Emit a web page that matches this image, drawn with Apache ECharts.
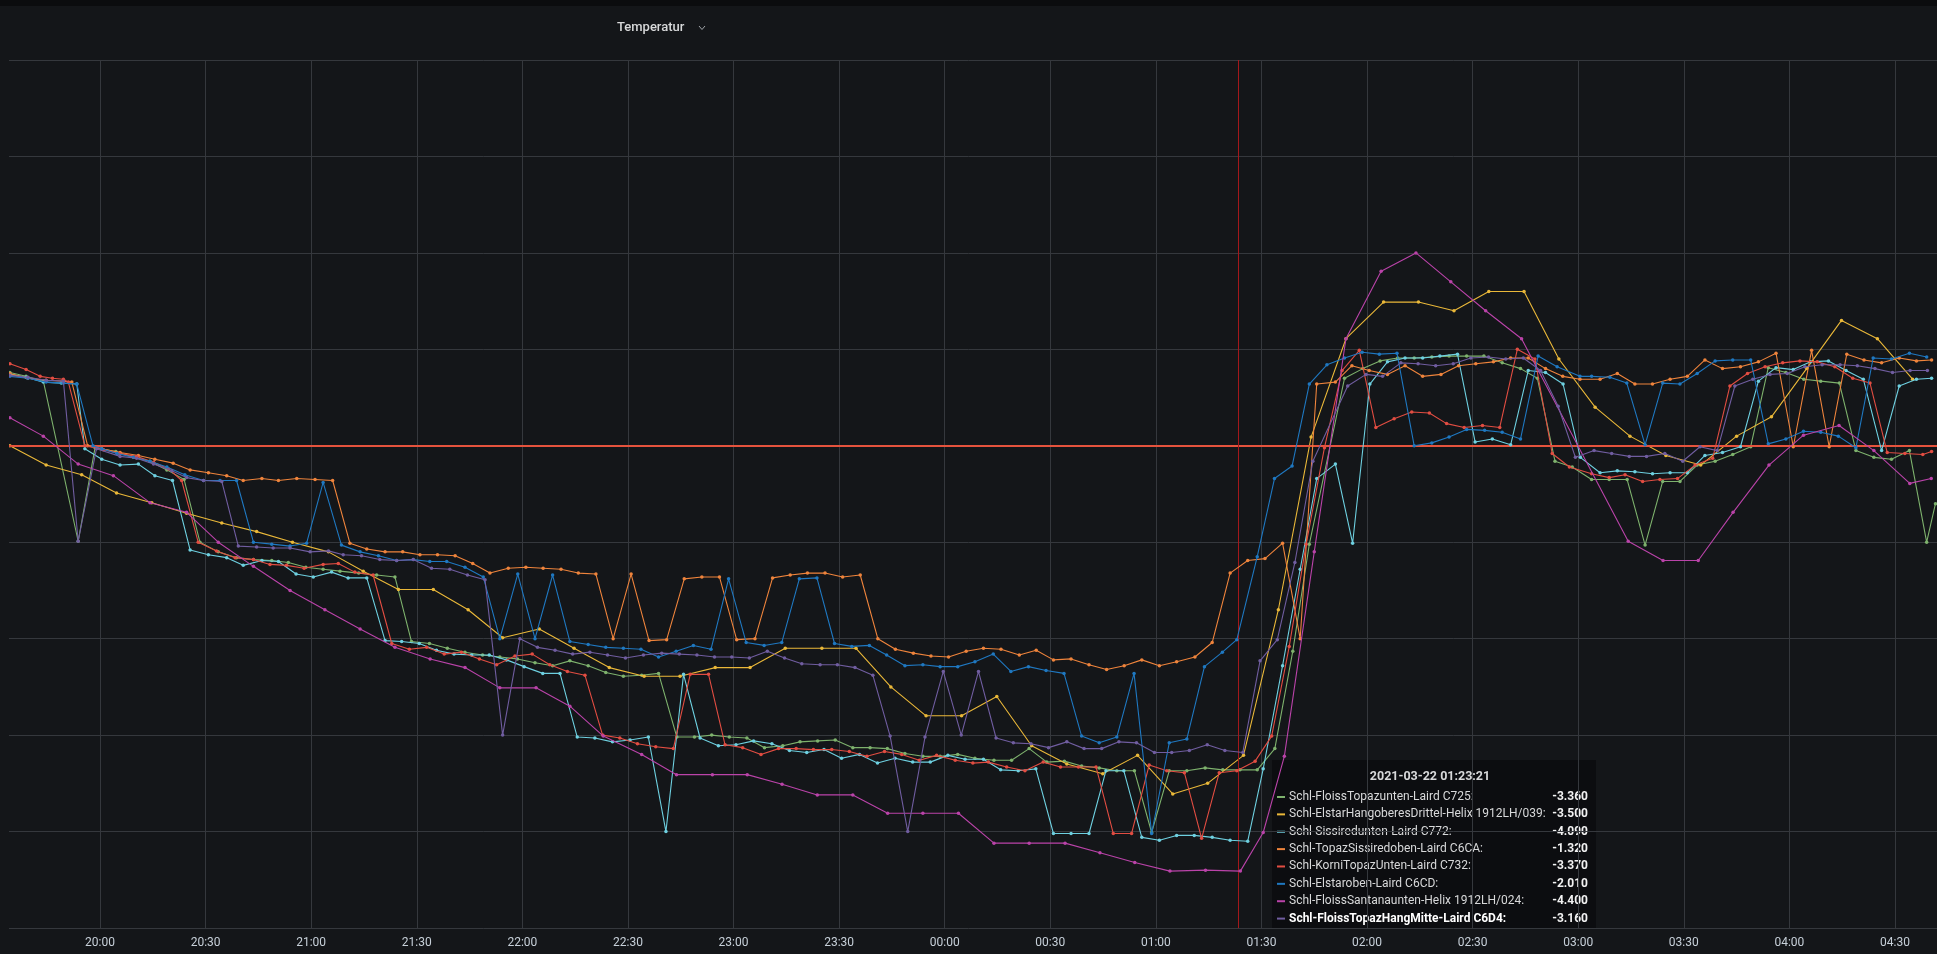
<!DOCTYPE html>
<html>
<head>
<meta charset="utf-8">
<title>Temperatur</title>
<script src="https://cdn.jsdelivr.net/npm/echarts@6/dist/echarts.min.js"></script>
<style>
  html, body { margin: 0; padding: 0; background: #141619; }
  #chart { width: 1937px; height: 954px; }
</style>
</head>
<body>
<div id="chart"></div>
<script>
// Sensor names and colours, in legend order
const seriesNames = [
  'Schl-FloissTopazunten-Laird C725',
  'Schl-ElstarHangoberesDrittel-Helix 1912LH/039',
  'Schl-Sissiredunten-Laird C772',
  'Schl-TopazSissiredoben-Laird C6CA',
  'Schl-KorniTopazUnten-Laird C732',
  'Schl-Elstaroben-Laird C6CD',
  'Schl-FloissSantanaunten-Helix 1912LH/024',
  'Schl-FloissTopazHangMitte-Laird C6D4'
];
const seriesColors = ['#7EB26D', '#EAB839', '#6ED0E0', '#EF843C', '#E24D42', '#1F78C1', '#BA43A9', '#705DA0'];

// Readings as [minutes after 2021-03-21 20:00, temperature in °C]
const floissTopazunten = [[-25.6,0.76],[-21,0.72],[-16.1,0.67],[-6.2,-0.99],[-1.4,-0.02],[4.5,-0.06],[9.5,-0.12],[14.2,-0.16],[19,-0.25],[23.9,-0.35],[28.4,-1.0],[33.6,-1.10],[38.8,-1.16],[43.6,-1.18],[48.8,-1.19],[53.5,-1.21],[58.5,-1.26],[63.4,-1.28],[68.2,-1.30],[73.5,-1.32],[78.6,-1.34],[83.8,-1.36],[88.5,-2.03],[93.6,-2.05],[98.7,-2.10],[103.7,-2.14],[108.7,-2.17],[113.6,-2.19],[118.6,-2.21],[123.6,-2.25],[128.6,-2.28],[133.5,-2.23],[138.7,-2.28],[143.7,-2.35],[148.7,-2.39],[153.9,-2.38],[158.7,-2.36],[163.9,-3.02],[168.9,-3.02],[173.8,-3.0],[178.8,-3.02],[183.8,-3.03],[188.8,-3.13],[194,-3.11],[198.9,-3.07],[203.9,-3.06],[208.9,-3.05],[213.9,-3.13],[218.8,-3.13],[223.7,-3.14],[228.7,-3.19],[233.8,-3.22],[238.7,-3.22],[243.7,-3.20],[248.6,-3.24],[254,-3.26],[259,-3.26],[264,-3.14],[269,-3.28],[274,-3.27],[278.9,-3.32],[283.9,-3.34],[288.9,-3.37],[293.9,-3.37],[298.8,-4.01],[303.8,-3.37],[308.8,-3.37],[314,-3.34],[319,-3.36],[323.9,-3.36],[328.8,-3.36],[333.8,-3.14],[338.9,-2.13],[343.6,-1.02],[353.6,0.70],[358.8,0.80],[363.7,0.88],[368.7,0.91],[373.4,0.91],[378.4,0.92],[383.3,0.93],[388.3,0.93],[393.2,0.93],[398.4,0.86],[403.6,0.80],[408.4,0.70],[413.4,-0.16],[418.3,-0.22],[423.8,-0.35],[428.8,-0.35],[433.9,-0.35],[439,-1.03],[444,-0.37],[448.9,-0.37],[453.8,-0.20],[458.9,-0.16],[463.9,-0.09],[469,-0.01],[474,0.81],[479,0.76],[484.1,0.69],[488.9,0.67],[494.2,0.65],[498.9,-0.05],[504,-0.12],[509,-0.14],[514.1,-0.05],[519,-1.0],[521.5,-0.6]];

const elstarHangoberesDrittel = [[-25.6,0.0],[-15.3,-0.20],[-5.2,-0.30],[4.7,-0.49],[14.7,-0.59],[24.6,-0.70],[34.6,-0.80],[44.5,-0.89],[54.7,-1.0],[64.9,-1.10],[74.8,-1.30],[84.8,-1.49],[94.7,-1.49],[104.6,-1.70],[114.4,-1.99],[124.8,-1.90],[134.7,-2.10],[144.7,-2.30],[154.6,-2.39],[164.8,-2.39],[174.8,-2.30],[184.7,-2.30],[194.7,-2.10],[205.1,-2.10],[214.8,-2.10],[224.7,-2.50],[234.7,-2.80],[244.8,-2.80],[254.8,-2.60],[264.7,-3.11],[274.7,-3.30],[284.9,-3.40],[294.8,-3.21],[304.8,-3.61],[314.7,-3.50],[324.9,-3.21],[334.8,-1.70],[344.1,0.09],[354,1.11],[364.7,1.49],[374.6,1.49],[384.7,1.40],[394.6,1.60],[404.6,1.60],[414.5,0.90],[424.8,0.40],[434.7,0.10],[444.9,-0.10],[454.8,-0.20],[465,0.10],[474.9,0.30],[484.9,0.80],[494.8,1.30],[505,1.11],[515,0.69]];

const sissiredunten = [[-25.6,0.74],[-21,0.71],[-16.1,0.66],[-11,0.65],[-6.6,0.64],[-4.3,-0.03],[0.5,-0.14],[5.7,-0.20],[10.9,-0.19],[15.6,-0.31],[20.6,-0.36],[25.6,-1.08],[30.8,-1.13],[36,-1.16],[40.7,-1.24],[46,-1.19],[50.7,-1.20],[55.7,-1.33],[60.6,-1.36],[65.8,-1.31],[70.5,-1.37],[75.8,-1.37],[81,-2.02],[85.7,-2.03],[90.7,-2.05],[95.6,-2.12],[100.6,-2.16],[105.6,-2.17],[110.6,-2.17],[115.5,-2.22],[120.5,-2.29],[125.8,-2.36],[130.7,-2.36],[135.6,-3.02],[140.6,-3.03],[145.6,-3.07],[150.6,-3.05],[155.8,-3.02],[160.8,-4.0],[165.8,-2.37],[170.5,-3.03],[175.7,-3.11],[180.7,-3.10],[185.7,-3.06],[190.9,-3.09],[195.9,-3.16],[200.8,-3.18],[205.7,-3.15],[210.7,-3.24],[215.8,-3.20],[220.9,-3.29],[225.9,-3.24],[230.9,-3.28],[235.9,-3.28],[240.9,-3.21],[245.8,-3.25],[251,-3.25],[255.9,-3.36],[260.9,-3.37],[265.9,-3.35],[270.9,-4.02],[275.9,-4.02],[281,-4.02],[285.8,-3.37],[290.9,-3.37],[296,-4.06],[301,-4.09],[305.9,-4.04],[310.9,-4.04],[316,-4.06],[321.1,-4.09],[326.1,-4.10],[330.5,-3.35],[336,-2.28],[341,-1.28],[345.7,-0.34],[351,-0.19],[355.9,-1.01],[360.8,0.64],[365.8,0.87],[370.8,0.91],[375.8,0.91],[380.7,0.93],[385.7,0.95],[390.7,0.04],[395.6,0.07],[400.8,0.01],[405.8,0.78],[410.7,0.76],[415.7,0.64],[420.6,-0.12],[426.2,-0.28],[431.1,-0.26],[436.1,-0.27],[441.1,-0.29],[446.1,-0.28],[451,-0.28],[456,-0.10],[461,-0.07],[466.1,-0.01],[471.2,0.67],[476.2,0.81],[481.1,0.79],[486,0.87],[491.1,0.88],[496.1,0.78],[501,0.69],[506.2,-0.05],[511.2,0.62],[516.1,0.69],[520.4,0.70]];

const topazSissiredoben = [[-25.6,0.75],[-20.5,0.70],[-15.3,0.68],[-10.4,0.67],[-8,0.66],[-3.5,0.0],[0.5,-0.03],[5.7,-0.07],[10.9,-0.10],[15.6,-0.14],[20.8,-0.18],[25.6,-0.25],[30.8,-0.28],[36,-0.31],[40.7,-0.36],[46,-0.34],[50.7,-0.36],[55.9,-0.34],[61.1,-0.35],[66.1,-0.36],[71,-1.01],[75.8,-1.07],[81,-1.10],[86,-1.10],[90.9,-1.13],[95.9,-1.13],[100.9,-1.14],[105.9,-1.22],[110.8,-1.32],[116,-1.27],[121,-1.26],[125.9,-1.27],[131,-1.28],[135.9,-1.32],[140.9,-1.33],[145.8,-2.0],[150.9,-1.33],[156,-2.02],[161,-2.01],[166,-1.38],[171,-1.36],[176,-1.36],[180.9,-2.01],[186.1,-2.0],[191.1,-1.37],[196.1,-1.34],[201,-1.32],[206,-1.32],[211,-1.36],[216,-1.34],[221,-2.0],[226,-2.11],[231.1,-2.15],[236.1,-2.18],[241.1,-2.19],[246.1,-2.13],[251,-2.10],[256,-2.11],[261.2,-2.17],[266,-2.12],[270.9,-2.22],[275.9,-2.21],[281,-2.27],[286,-2.32],[291,-2.28],[296,-2.22],[301,-2.28],[305.9,-2.24],[311.1,-2.19],[316,-2.04],[321.1,-1.32],[326.1,-1.19],[331,-1.17],[336,-1.01],[341,-2.0],[345.7,0.64],[351,0.66],[355.7,0.83],[360.6,0.78],[365.8,0.74],[370.8,0.83],[375.8,0.72],[381,0.74],[386,0.83],[390.9,0.85],[395.9,0.87],[400.8,0.91],[405.8,0.91],[410.7,0.80],[415.6,0.72],[420.5,0.69],[426.2,0.69],[431.1,0.75],[436.1,0.64],[441.1,0.64],[446.1,0.69],[451,0.72],[456,0.89],[461,0.80],[466.1,0.82],[471.2,0.87],[476.2,0.96],[481.1,-0.01],[486.3,0.99],[491.3,-0.01],[496.3,0.95],[501.2,0.89],[506.2,0.86],[511.2,0.91],[516.1,0.88],[520.4,0.89]];

const korniTopazUnten = [[-25.6,0.85],[-21,0.79],[-17,0.72],[-13.5,0.70],[-10.4,0.69],[-9,0.66],[-4.3,0.0],[1,-0.04],[5.5,-0.08],[10.4,-0.11],[15.2,-0.17],[19.5,-0.24],[23.2,-0.36],[27.9,-1.0],[33.1,-1.09],[38.4,-1.16],[43.6,-1.18],[48.3,-1.23],[53,-1.24],[58,-1.27],[63.4,-1.23],[67.7,-1.22],[72.4,-1.31],[77.6,-1.34],[82.9,-2.05],[87.9,-2.11],[92.8,-2.09],[97.8,-2.16],[102.7,-2.14],[107.8,-2.21],[112.7,-2.27],[117.9,-2.18],[122.8,-2.16],[127.8,-2.27],[132.8,-2.34],[137.8,-2.38],[142.8,-3.0],[147.7,-3.03],[152.7,-3.09],[157.9,-3.12],[162.9,-3.14],[167.7,-2.37],[172.9,-2.37],[177.6,-3.10],[182.6,-3.13],[187.8,-3.20],[192.8,-3.14],[197.8,-3.14],[202.7,-3.15],[207.9,-3.15],[212.9,-3.17],[217.9,-3.22],[222.9,-3.17],[227.8,-3.20],[232.8,-3.26],[237.7,-3.21],[243,-3.26],[248,-3.29],[252.4,-3.28],[257.6,-3.33],[262.8,-3.37],[268,-3.28],[272.9,-3.33],[278,-3.33],[283,-3.33],[287.9,-4.02],[293.1,-4.02],[298.1,-3.31],[303.1,-3.37],[308.1,-3.39],[313,-4.07],[318,-3.39],[323,-3.37],[328.2,-3.27],[332.9,-3.01],[337.9,-2.08],[342.7,-1.02],[347.9,-0.02],[352.9,0.78],[357.8,0.99],[362.5,0.19],[367.7,0.28],[372.7,0.35],[377.7,0.34],[382.6,0.23],[387.6,0.19],[392.8,0.21],[397.7,0.19],[402.7,1.0],[407.7,0.90],[412.6,-0.08],[417.5,-0.22],[423.8,-0.29],[428.8,-0.33],[433.3,-0.30],[438.3,-0.37],[443.2,-0.35],[448.2,-0.34],[453.2,-0.20],[458.2,-0.13],[463.1,0.62],[468.1,0.75],[473.1,0.82],[478.1,0.86],[483,0.88],[487.9,0.87],[492.9,0.82],[498,0.70],[502.9,0.65],[507.8,-0.07],[512.8,-0.08],[517.9,-0.09],[520.4,-0.06]];

const elstaroben = [[-25.6,0.72],[-20.5,0.70],[-15.3,0.66],[-10.4,0.65],[-6.6,0.64],[-2,0.0],[0.5,-0.03],[4.8,-0.08],[9.5,-0.12],[14.2,-0.16],[19,-0.22],[24.1,-0.30],[29.4,-0.36],[34.1,-0.36],[38.8,-0.36],[43.6,-1.0],[48.8,-1.02],[54,-1.04],[58.7,-1.01],[63.4,-0.38],[68.6,-1.03],[73.9,-1.10],[79.1,-1.14],[84.3,-1.19],[89,-1.18],[93.7,-1.20],[98.5,-1.20],[103.7,-1.26],[108.9,-1.36],[113.6,-2.0],[118.7,-1.33],[123.6,-2.0],[128.6,-1.34],[133.5,-2.03],[138.7,-2.06],[143.7,-2.09],[148.7,-2.10],[153.7,-2.11],[158.7,-2.19],[163.7,-2.13],[168.6,-2.07],[173.6,-2.11],[178.6,-1.38],[183.6,-2.04],[188.7,-2.07],[193.7,-2.04],[198.7,-1.38],[203.7,-1.37],[208.7,-2.05],[213.6,-2.08],[218.6,-2.07],[223.5,-2.17],[228.7,-2.28],[233.8,-2.27],[238.7,-2.29],[243.7,-2.29],[248.6,-2.24],[253.8,-2.16],[258.8,-2.34],[263.8,-2.29],[268.8,-2.33],[273.9,-2.36],[278.9,-3.01],[283.9,-3.08],[288.9,-3.02],[293.8,-2.36],[298.8,-4.02],[303.8,-3.08],[308.8,-3.04],[313.8,-2.29],[318.9,-2.14],[323,-2.01],[328.8,-1.15],[333.7,-0.34],[338.7,-0.21],[343.6,0.64],[348.6,0.84],[353.6,0.91],[358.6,0.97],[363.5,0.95],[368.5,0.96],[373.4,0.0],[378.4,0.03],[383.3,0.09],[388.3,0.17],[393.4,0.16],[398.4,0.14],[403.6,0.07],[408.6,0.93],[414,0.82],[420.5,0.72],[423.8,0.72],[429,0.71],[433.8,0.65],[439,0.01],[444,0.65],[448.9,0.64],[453.8,0.75],[458.9,0.88],[463.9,0.89],[469,0.89],[474,0.02],[479,0.07],[484,0.15],[488.9,0.14],[493.9,0.10],[498.9,-0.02],[503.8,0.91],[509,0.90],[514.1,0.96],[519,0.92]];

const floissSantanaunten = [[-25.6,0.29],[-16.1,0.10],[-6.2,-0.19],[3.8,-0.31],[14.2,-0.59],[24.6,-0.69],[33.6,-1.0],[43.6,-1.25],[54,-1.50],[63.9,-1.70],[73.9,-1.90],[83.8,-2.09],[93.8,-2.21],[103.7,-2.30],[113.6,-2.51],[123.9,-2.51],[133.5,-2.70],[143,-3.01],[153.9,-3.20],[163.8,-3.41],[174,-3.41],[183.9,-3.41],[193.8,-3.51],[203.8,-3.62],[213.9,-3.62],[223.8,-3.81],[233.8,-3.81],[243.9,-3.81],[254,-4.12],[264,-4.12],[274.2,-4.12],[284.1,-4.22],[294,-4.32],[304,-4.41],[314.1,-4.40],[324,-4.41],[330.5,-4.01],[336.5,-3.22],[345,-1.10],[354,1.11],[364,1.81],[373.9,2.0],[383.8,1.70],[393.7,1.40],[403.9,1.11],[434.2,-0.99],[444.1,-1.19],[454.1,-1.19],[464,-0.69],[474.2,-0.20],[484,0.11],[494.1,0.21],[504,-0.05],[514.2,-0.39],[520.3,-0.34]];

const floissTopazHangMitte = [[-25.6,0.73],[-20.5,0.71],[-15.3,0.68],[-10.4,0.67],[-6.2,-0.99],[-1,-0.03],[5.7,-0.11],[10.4,-0.13],[15.2,-0.19],[20.4,-0.26],[24.6,-0.33],[29.4,-0.36],[34.6,-0.37],[39.3,-1.04],[44.5,-1.05],[49.2,-1.06],[54,-1.06],[59.7,-1.10],[64.9,-1.09],[69.1,-1.13],[74.3,-1.14],[79.5,-1.18],[84.3,-1.19],[89,-1.18],[94.2,-1.27],[99.4,-1.28],[104.4,-1.34],[109.4,-1.39],[114.4,-3.0],[119.3,-2.0],[124.3,-2.09],[129.3,-2.12],[134.3,-2.16],[139.2,-2.14],[144.2,-2.17],[149.3,-2.20],[154.4,-2.17],[159.6,-2.15],[164.6,-2.16],[169.6,-2.17],[174.6,-2.19],[179.5,-2.19],[184.5,-2.20],[189.6,-2.13],[194.5,-2.20],[199.4,-2.26],[204.6,-2.27],[209.5,-2.27],[214.5,-2.30],[219.6,-2.38],[224.5,-3.01],[229.5,-4.0],[234.4,-3.02],[239.6,-2.34],[244.7,-3.0],[249.6,-2.34],[254.6,-3.03],[259.5,-3.08],[264.5,-3.09],[269.5,-3.13],[274.7,-3.07],[279.6,-3.14],[284.6,-3.14],[289.5,-3.07],[294.5,-3.08],[299.6,-3.18],[304.5,-3.18],[309.5,-3.16],[314.6,-3.10],[319.6,-3.16],[324.7,-3.18],[329.6,-2.23],[334.5,-2.01],[339.5,-1.21],[344.6,-0.16],[354.5,0.62],[359.7,0.74],[364.4,0.72],[369.6,0.86],[374.5,0.85],[379.5,0.83],[384.5,0.85],[389.5,0.91],[394.5,0.92],[399.4,0.90],[404.4,0.91],[409.3,0.78],[414.3,0.41],[419.2,-0.12],[424.5,-0.05],[429.5,-0.08],[434.5,-0.11],[439.4,-0.11],[444.6,-0.08],[449.7,-0.16],[454.6,-0.01],[459.5,-0.05],[464.5,0.62],[469.6,0.69],[474.5,0.74],[479.4,0.75],[484.4,0.82],[489.3,0.84],[494.4,0.84],[499.3,0.83],[504.3,0.80],[509.3,0.76],[514.3,0.78],[519.2,0.78]];

const seriesData = [floissTopazunten, elstarHangoberesDrittel, sissiredunten, topazSissiredoben,
                    korniTopazUnten, elstaroben, floissSantanaunten, floissTopazHangMitte];

// Time window (minutes after 20:00): visible span and the half-hour tick range around it
const windowStartMin = -25.57;
const windowEndMin = 520.8;
const tickStartMin = -30;
const tickEndMin = 540;
const tickStepMin = 30;
const hoverMin = 323.35;            // 2021-03-22 01:23:21
const hoverLabel = '2021-03-22 01:23:21';
const hoveredSeries = 7;
const thresholdValue = 0;

const base = new Date(2021, 2, 21, 20, 0, 0).getTime();
const pad = n => String(n).padStart(2, '0');
const clock = m => { const d = new Date(base + m * 60000); return pad(d.getHours()) + ':' + pad(d.getMinutes()); };

// Value shown for a series at the hover time: last reading at or before it
function valueAt(data, minute) {
  let v = null;
  for (const [m, val] of data) { if (m <= minute) v = val; else break; }
  return v;
}

// Plot box: the visible window spans x = 10 .. 1933; the axis runs on whole half hours,
// so the grid is widened past the canvas edges by the same px-per-minute scale.
const plotLeft = 10, plotRight = 1933, W = 1937;
const pxPerMin = (plotRight - plotLeft) / (windowEndMin - windowStartMin);
const gridLeft = plotLeft - (windowStartMin - tickStartMin) * pxPerMin;
const gridRight = W - (plotRight + (tickEndMin - windowEndMin) * pxPerMin);

const chart = echarts.init(document.getElementById('chart'), null, { renderer: 'canvas' });

const lineSeries = seriesData.map((data, i) => ({
  name: seriesNames[i],
  type: 'line',
  data: data,
  showSymbol: true,
  symbol: 'circle',
  symbolSize: 3.5,
  lineStyle: { width: 1.1, color: seriesColors[i] },
  itemStyle: { color: seriesColors[i], borderWidth: 0 },
  emphasis: { disabled: true },
  silent: true,
  z: 3 + i
}));

// Threshold and hover cursor lines
const markerSeries = {
  type: 'line',
  data: [],
  silent: true,
  z: 2,
  markLine: {
    symbol: 'none',
    silent: true,
    animation: false,
    label: { show: false },
    data: [
      { yAxis: thresholdValue, lineStyle: { color: '#e5533d', width: 2, type: 'solid' } },
      { xAxis: hoverMin, lineStyle: { color: '#a3181b', width: 1, type: 'solid' } }
    ]
  }
};

// Hover box
const boxX = 1272, boxY = 760, boxW = 324, boxH = 169;
const rowY0 = 797, rowStep = 17.37;
const tipElements = [
  { type: 'rect', shape: { x: boxX, y: boxY, width: boxW, height: boxH },
    style: { fill: 'rgba(13,14,16,0.96)' } },
  { type: 'text', x: boxX + boxW / 2 - 4, y: 777,
    style: { text: hoverLabel, fill: '#d8d9da', font: 'bold 12.5px Roboto', align: 'center', verticalAlign: 'middle', textAlign: 'center', textVerticalAlign: 'middle' } }
];
seriesData.forEach((data, i) => {
  const y = rowY0 + i * rowStep;
  const hovered = i === hoveredSeries;
  tipElements.push({ type: 'rect', shape: { x: 1277, y: y - 1, width: 8, height: 2 }, style: { fill: seriesColors[i] } });
  tipElements.push({ type: 'text', x: 1289, y: y,
    style: { text: seriesNames[i] + ':', fill: hovered ? '#ffffff' : '#d8d9da',
             font: (hovered ? 'bold ' : '') + '12px Roboto', align: 'left', verticalAlign: 'middle', textAlign: 'left', textVerticalAlign: 'middle' } });
  tipElements.push({ type: 'text', x: 1588, y: y,
    style: { text: valueAt(data, hoverMin).toFixed(3), fill: '#f2f2f2',
             font: 'bold 12px Roboto', align: 'right', verticalAlign: 'middle', textAlign: 'right', textVerticalAlign: 'middle' } });
});

const option = {
  backgroundColor: '#141619',
  animation: false,
  grid: { left: gridLeft, right: gridRight, top: 60, bottom: 26, containLabel: false, outerBoundsMode: 'none' },
  xAxis: {
    type: 'value',
    min: tickStartMin,
    max: tickEndMin,
    interval: tickStepMin,
    axisLine: { show: true, lineStyle: { color: '#35383d', width: 1 } },
    axisTick: { show: false },
    axisLabel: {
      color: '#c7d0d9', fontSize: 12, fontFamily: 'Roboto', margin: 9,
      showMinLabel: false, showMaxLabel: false,
      formatter: v => clock(v)
    },
    splitLine: { show: true, lineStyle: { color: '#35383d', width: 1 } }
  },
  yAxis: {
    type: 'value',
    min: -5, max: 4, interval: 1,
    axisLine: { show: false },
    axisTick: { show: false },
    axisLabel: { show: false },
    splitLine: { show: true, lineStyle: { color: '#35383d', width: 1 } }
  },
  series: [markerSeries, ...lineSeries],
  graphic: [
    // panel padding on the left and the dark strip above the panel
    { type: 'rect', shape: { x: 0, y: 0, width: plotLeft - 1, height: 954 }, style: { fill: '#141619' }, silent: true, z: 50 },
    { type: 'rect', shape: { x: 0, y: 0, width: 1937, height: 6 }, style: { fill: '#0b0c0e' }, silent: true, z: 50 },
    { type: 'text', x: 617, y: 28, silent: true,
      style: { text: 'Temperatur', fill: '#d8d9da', font: '500 13px Roboto', align: 'left', verticalAlign: 'middle', textAlign: 'left', textVerticalAlign: 'middle' } },
    { type: 'polyline', silent: true, shape: { points: [[699, 26], [702, 29.5], [705, 26]] },
      style: { stroke: '#9fa3a8', lineWidth: 1, fill: null } },
    { type: 'group', silent: true, z: 100, children: tipElements }
  ]
};

chart.setOption(option);
</script>
</body>
</html>
